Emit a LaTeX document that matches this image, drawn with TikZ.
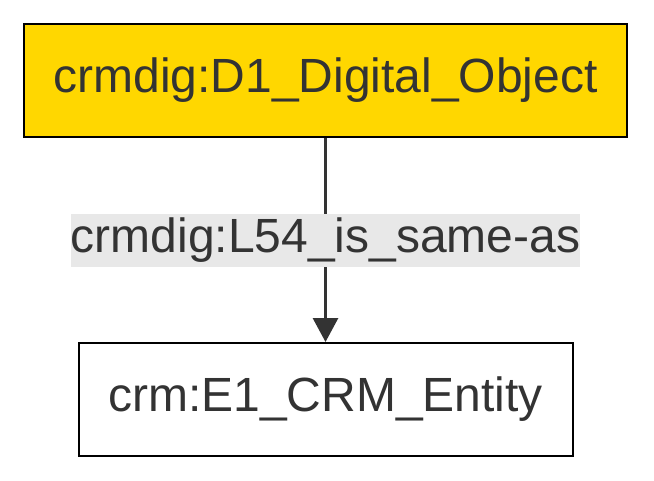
\documentclass[tikz,border=0pt]{standalone}
\usepackage{fontspec}
\setmainfont{Liberation Sans}
\usepackage{xcolor}
\usepackage{tikz}
\usetikzlibrary{arrows.meta}

\definecolor{classgold}{HTML}{FFD700}
\definecolor{inkgray}{HTML}{333333}
\definecolor{labelgray}{HTML}{E8E8E8}

\begin{document}
\begin{tikzpicture}[x=1pt, y=-1pt,
  every node/.style={text=inkgray, font=\fontsize{48}{53}\selectfont, inner sep=0pt},
  classbox/.style={draw=black, line width=2pt, minimum height=113pt},
  relation/.style={draw=inkgray, line width=3pt, -{Triangle[length=24pt, width=25pt]}},
  rellabel/.style={fill=labelgray, minimum width=509pt, minimum height=53pt}]

\useasboundingbox (0,0) rectangle (654,480);

\node (d1)[classbox, fill=classgold, minimum width=603pt] at (325.5,80.5) {crmdig:D1\_Digital\_Object};
\node (e1)[classbox, fill=white, minimum width=494pt] at (325.5,399.5) {crm:E1\_CRM\_Entity};

\draw[relation] (d1.south) -- node (l54)[rellabel]{crmdig:L54\_is\_same-as} (e1.north);
\end{tikzpicture}
\end{document}
